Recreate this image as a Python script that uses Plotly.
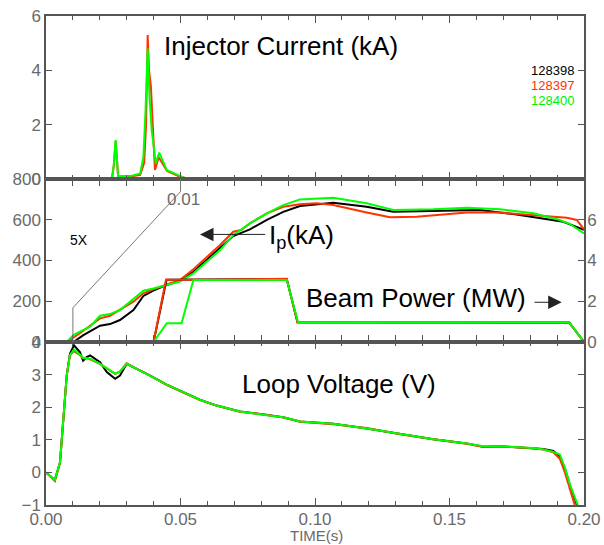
import plotly.graph_objects as go
from plotly.subplots import make_subplots

# ---------------- data ----------------
shots = ["128398", "128397", "128400"]
colors = ["#000000", "#ff3300", "#00ff00"]

# Injector current (kA)
t_inj_k = [0.0, 0.2]
inj_k = [0.0, 0.0]
t_inj_r = [0.0, 0.0245, 0.0252, 0.0259, 0.0268, 0.028, 0.032, 0.035, 0.0365, 0.0372, 0.0378, 0.0383,
           0.039, 0.0405, 0.0419, 0.045, 0.049, 0.053, 0.2]
inj_r = [0, 0, 0.5, 1.4, 0.1, 0.08, 0.1, 0.15, 0.6, 2.0, 5.3, 4.0, 3.4, 0.33, 0.8, 0.3, 0.12, 0, 0]
t_inj_g = [0.0, 0.0245, 0.0252, 0.0259, 0.0268, 0.028, 0.032, 0.035, 0.0362, 0.037, 0.0378, 0.0385,
           0.0393, 0.0408, 0.0421, 0.0449, 0.0486, 0.0523, 0.2]
inj_g = [0, 0, 0.5, 1.43, 0.1, 0.1, 0.12, 0.2, 0.8, 2.5, 4.8, 3.0, 1.8, 0.58, 0.97, 0.33, 0.15, 0, 0]

# Plasma current Ip (kA)
t_ip_k = [0.0102, 0.0139, 0.0201, 0.0238, 0.0275, 0.0325, 0.0362, 0.0399, 0.0449, 0.0498, 0.0548,
          0.0597, 0.0647, 0.0696, 0.0758, 0.0821, 0.0882, 0.0944, 0.1068, 0.1192, 0.1291, 0.1440,
          0.1613, 0.1737, 0.1836, 0.1923, 0.2000]
ip_k = [0, 34, 80, 88, 108, 157, 226, 252, 280, 300, 345, 402, 460, 520, 553, 599, 639, 667, 684,
        664, 639, 644, 648, 628, 607, 590, 550]
t_ip_r = [0.0077, 0.0126, 0.0201, 0.0238, 0.0325, 0.0362, 0.0399, 0.0449, 0.0498, 0.0548, 0.0597,
          0.0647, 0.0696, 0.0727, 0.0758, 0.0821, 0.0882, 0.0944, 0.1006, 0.1068, 0.1192, 0.1279,
          0.1378, 0.1564, 0.1688, 0.1812, 0.1936, 0.1973, 0.2000]
ip_r = [0, 43, 116, 129, 198, 239, 259, 280, 304, 357, 416, 476, 541, 550, 582, 631, 664, 676, 681,
        672, 636, 612, 615, 635, 635, 623, 610, 599, 553]
t_ip_g = [0.0077, 0.0102, 0.0126, 0.0164, 0.0201, 0.0238, 0.0275, 0.0325, 0.0362, 0.0399, 0.0449,
          0.0498, 0.0548, 0.0597, 0.0647, 0.0696, 0.0758, 0.0821, 0.0882, 0.0944, 0.1068, 0.1192,
          0.1291, 0.1440, 0.1564, 0.1688, 0.1812, 0.1910, 0.1948, 0.2000]
ip_g = [0, 34, 51, 75, 129, 137, 157, 214, 252, 263, 280, 296, 337, 394, 451, 525, 582, 631, 672,
        700, 708, 681, 648, 651, 659, 651, 632, 599, 579, 533]

# Beam power (MW)
t_pb_k = [0.0400, 0.0448, 0.060, 0.075, 0.0895, 0.0935, 0.12, 0.15, 0.1945, 0.2000]
pb_k = [0, 3.05, 3.07, 3.08, 3.08, 0.97, 0.96, 0.97, 0.96, 0.0]
t_pb_r = [0.0400, 0.0446, 0.060, 0.075, 0.0895, 0.0935, 0.12, 0.15, 0.1945, 0.2000]
pb_r = [0, 3.05, 3.06, 3.08, 3.1, 0.96, 0.97, 0.96, 0.96, 0.0]
t_pb_g = [0.0, 0.0400, 0.0449, 0.0504, 0.0548, 0.0895, 0.0937, 0.1945, 0.2000]
pb_g = [0, 0, 0.92, 0.92, 3.04, 3.04, 0.97, 0.97, 0.0]

# Loop voltage (V)
t_v = [0.0, 0.0033, 0.0052, 0.0064, 0.0077, 0.0089, 0.0104, 0.0126, 0.0138, 0.0151, 0.0164, 0.0201,
       0.0226, 0.0257, 0.0275, 0.0300, 0.0325, 0.0387, 0.0449, 0.0510, 0.0572, 0.0635, 0.0721,
       0.0821, 0.0882, 0.0944, 0.1068, 0.1192, 0.1316, 0.1440, 0.1564, 0.1626, 0.1688, 0.1812,
       0.1849, 0.1886, 0.1910, 0.1929, 0.1948, 0.1973, 0.2000]
v_k = [0, -0.23, 0.3, 1.74, 2.97, 3.64, 3.9, 3.69, 3.43, 3.54, 3.59, 3.38, 3.08, 2.87, 2.97, 3.33,
       3.23, 2.97, 2.69, 2.46, 2.23, 2.05, 1.87, 1.76, 1.69, 1.56, 1.49, 1.35, 1.18, 1.02, 0.89,
       0.79, 0.80, 0.75, 0.72, 0.66, 0.50, 0.12, -0.41, -0.98, -1.5]
v_r = [0, -0.27, 0.3, 1.74, 2.97, 3.6, 3.72, 3.6, 3.5, 3.5, 3.47, 3.33, 3.18, 3.02, 3.09, 3.35,
       3.23, 2.97, 2.68, 2.45, 2.22, 2.04, 1.86, 1.77, 1.68, 1.55, 1.48, 1.36, 1.17, 1.02, 0.88,
       0.78, 0.80, 0.74, 0.70, 0.62, 0.42, 0.0, -0.55, -1.2, -1.6]
v_g = [0, -0.23, 0.3, 1.74, 2.97, 3.6, 3.77, 3.62, 3.51, 3.5, 3.48, 3.33, 3.18, 3.02, 3.09, 3.33,
       3.23, 2.97, 2.69, 2.46, 2.23, 2.05, 1.87, 1.75, 1.69, 1.56, 1.49, 1.35, 1.18, 1.02, 0.89,
       0.80, 0.80, 0.75, 0.70, 0.63, 0.55, 0.15, -0.38, -0.95, -1.5]

x_ticks = [0.0, 0.05, 0.10, 0.15, 0.20]

# ---------------- figure ----------------
FONT = "Liberation Sans, Arial, sans-serif"
GRAY = "#6a6a6a"
FRAME = "#555555"
LW = 2

fig = make_subplots(rows=3, cols=1, shared_xaxes=True, vertical_spacing=0,
                    specs=[[{}], [{"secondary_y": True}], [{}]])

inj = [(t_inj_k, inj_k), (t_inj_r, inj_r), (t_inj_g, inj_g)]
ips = [(t_ip_k, ip_k), (t_ip_r, ip_r), (t_ip_g, ip_g)]
pbs = [(t_pb_k, pb_k), (t_pb_r, pb_r), (t_pb_g, pb_g)]
vls = [v_k, v_r, v_g]

for i, name in enumerate(shots):
    c = colors[i]
    fig.add_trace(go.Scatter(x=inj[i][0], y=inj[i][1], mode="lines", line=dict(color=c, width=LW),
                             showlegend=False, name=name), row=1, col=1)
for i, name in enumerate(shots):
    c = colors[i]
    fig.add_trace(go.Scatter(x=ips[i][0], y=ips[i][1], mode="lines", line=dict(color=c, width=LW),
                             showlegend=False, name=name), row=2, col=1, secondary_y=False)
for i, name in enumerate(shots):
    c = colors[i]
    fig.add_trace(go.Scatter(x=pbs[i][0], y=pbs[i][1], mode="lines", line=dict(color=c, width=LW),
                             showlegend=False, name=name), row=2, col=1, secondary_y=True)
for i, name in enumerate(shots):
    c = colors[i]
    fig.add_trace(go.Scatter(x=t_v, y=vls[i], mode="lines", line=dict(color=c, width=LW),
                             showlegend=False, name=name), row=3, col=1)

xaxis_common = dict(range=[0, 0.2], domain=[0, 1], tickvals=x_ticks, ticks="inside", ticklen=7,
                    tickcolor=FRAME, showline=True, linecolor=FRAME, linewidth=1.5,
                    mirror="allticks", showgrid=False, zeroline=False, automargin=False,
                    minor=dict(dtick=0.01, tick0=0, ticks="inside", ticklen=4, tickcolor=FRAME),
                    tickfont=dict(family=FONT, size=17, color=GRAY))
for ax in ["xaxis", "xaxis2", "xaxis3"]:
    fig.layout[ax].update(**xaxis_common)
fig.layout.xaxis.showticklabels = False
fig.layout.xaxis2.showticklabels = False
fig.layout.xaxis3.update(showticklabels=True, tickformat=".2f", ticklabelstandoff=-2)

yaxis_common = dict(ticks="inside", ticklen=6, tickcolor=FRAME, showline=True, linecolor=FRAME,
                    linewidth=1.5, showgrid=False, zeroline=False,
                    tickfont=dict(family=FONT, size=17, color=GRAY), automargin=False)
fig.layout.yaxis.update(range=[0, 6], tickvals=[0, 2, 4, 6], mirror="allticks", **yaxis_common)
fig.layout.yaxis2.update(range=[0, 800], tickvals=[0, 200, 400, 600, 800], mirror=False, **yaxis_common)
fig.layout.yaxis3.update(range=[0, 8], tickvals=[0, 2, 4, 6], ticklabelstandoff=-2, **yaxis_common)
fig.layout.yaxis4.update(range=[-1, 4], tickvals=[-1, 0, 1, 2, 3, 4], mirror="allticks", **yaxis_common)

# ---------------- annotations ----------------
big = dict(family=FONT, size=26, color="black")
ann = []
ann.append(dict(x=0.08725, y=4.89, xref="x", yref="y", text="Injector Current (kA)",
                showarrow=False, font=big))
for i, name in enumerate(shots):
    ann.append(dict(x=0.19703, y=[4.0, 3.45, 2.9][i], xref="x", yref="y", text=name,
                    xanchor="right", showarrow=False,
                    font=dict(family=FONT, size=13, color=colors[i] if i != 2 else "#00ee00")))
ann.append(dict(x=0.0822, y=520, xref="x", yref="y2", text="I<sub>p</sub>(kA)", xanchor="left",
                showarrow=False, font=big))
ann.append(dict(x=0.05725, y=528, xref="x", yref="y2", ax=0.08204, ay=528, axref="x", ayref="y2",
                text="", showarrow=True, arrowhead=2, arrowsize=2.7, arrowwidth=1,
                arrowcolor="#222222"))
ann.append(dict(x=0.13755, y=216, xref="x", yref="y2", text="Beam Power (MW)",
                showarrow=False, font=big))
ann.append(dict(x=0.19171, y=195, xref="x", yref="y2", ax=0.18104, ay=195, axref="x", ayref="y2",
                text="", showarrow=True, arrowhead=2, arrowsize=2.7, arrowwidth=1,
                arrowcolor="#222222"))
ann.append(dict(x=0.01227, y=500, xref="x", yref="y2", text="5X", showarrow=False,
                font=dict(family=FONT, size=14, color="black")))
ann.append(dict(x=0.05105, y=697, xref="x", yref="y2", text="0.01", showarrow=False,
                font=dict(family=FONT, size=17, color=GRAY)))
ann.append(dict(x=0.10874, y=2.72, xref="x", yref="y4", text="Loop Voltage (V)",
                showarrow=False, font=big))
ann.append(dict(x=0.1006, y=-0.0625, xref="x", yref="paper", text="TIME(s)", showarrow=False,
                yanchor="middle", font=dict(family=FONT, size=15, color=GRAY)))
fig.update_layout(annotations=ann)

# 5x magnification guide line
fig.add_shape(type="path", xref="x", yref="y2",
              path="M 0.01,0 L 0.01,168 L 0.05,738 L 0.05,800",
              line=dict(color="#777777", width=1))

fig.update_layout(width=604, height=545, autosize=False,
                  margin=dict(l=46, r=20, t=16, b=40),
                  paper_bgcolor="white", plot_bgcolor="white",
                  font=dict(family=FONT, color=GRAY), showlegend=False)

fig.write_html("out.html", config={"displayModeBar": False},
               post_script="document.body.style.margin='0px';document.body.style.padding='0px';"
                           "document.body.style.overflow='hidden';")
